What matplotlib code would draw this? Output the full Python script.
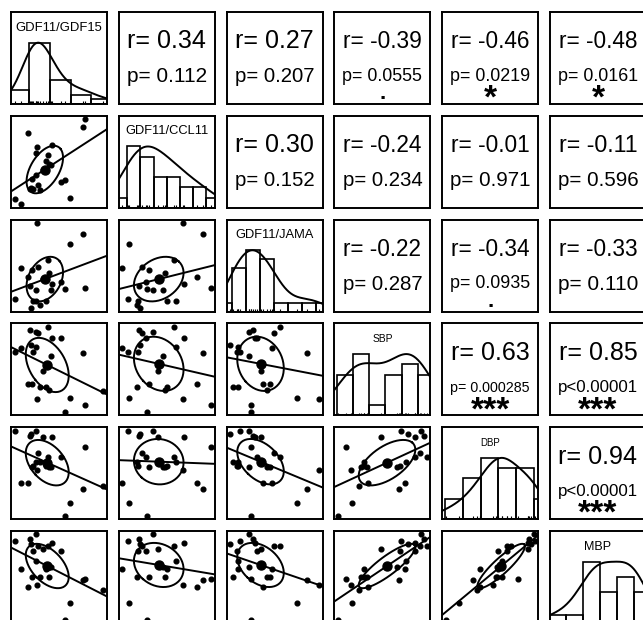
import numpy as np
import matplotlib.pyplot as plt

plt.rcParams['font.family'] = ['Liberation Sans', 'DejaVu Sans']

names = ["GDF11/GDF15", "GDF11/CCL11", "GDF11/JAMA", "SBP", "DBP", "MBP"]
label_sizes = [9.4, 9.3, 9.3, 7.4, 6.9, 9.0]
nan = np.nan
gdf15 = [0.031, 0.063, 0.095, 0.103, 0.111, 0.114, 0.119, 0.132, 0.135, 0.137, 0.144, 0.152,
         0.168, 0.184, 0.192, 0.196, 0.208, 0.213, 0.256, 0.273, 0.298, 0.361, 0.369, 0.458]
ccl11 = [1.02, 0.82, 3.63, 1.44, 1.47, 1.84, 1.41, 1.97, 2.83, 3.10, 1.57, 1.37,
         2.17, 2.52, 2.77, 2.43, 2.37, 3.16, 1.70, 1.77, 1.08, 3.87, 4.18, nan]
jama = [0.310, 0.765, 0.641, 0.503, 0.168, 0.738, 0.269, 0.434, 0.282, 1.445, 0.793, 0.214,
        0.613, 0.283, 0.889, 0.696, 0.437, 0.531, 0.558, 0.462, 1.124, 1.275, 0.466, nan]
sbp = [179, 184, 138, 207, 188, 137, 178, 204, 185, 118, 203, 134,
       154, 133, 211, 130, 174, 196, 197, 101.5, 119, 177, 111, 128]
dbp = [110.4, 79.5, 79.7, 107.3, 108.5, 89.2, 89.8, 110.1, 92.1, 87.2, 97.0, 92.1,
       106.5, 89.7, 95.1, 88.8, 89.2, 106.5, 95.1, 60.3, 68.0, 75.8, 101.0, 78.0]
mbp = [121, 104, 93, 122, 119, 99, 115, 125, 109, 94, 118, 99,
       116, 104, 118, 99, 105, 120, 115, 73, 83, 97, 98, 91]

# upper triangle, row by row
r_values = [0.34, 0.27, -0.39, -0.46, -0.48,
            0.30, -0.24, -0.01, -0.11,
            -0.22, -0.34, -0.33,
            0.63, 0.85,
            0.94]
p_labels = ["p= 0.112", "p= 0.207", "p= 0.0555", "p= 0.0219", "p= 0.0161",
            "p= 0.152", "p= 0.234", "p= 0.971", "p= 0.596",
            "p= 0.287", "p= 0.0935", "p= 0.110",
            "p= 0.000285", "p<0.00001",
            "p<0.00001"]
stars = ["", "", ".", "*", "*",
         "", "", "", "",
         "", ".", "",
         "***", "***",
         "***"]


def pretty_breaks(x):
    # R hist() default: Sturges + pretty()
    n = int(np.ceil(np.log2(len(x)) + 1))
    lo, hi = x.min(), x.max()
    cell = (hi - lo) / n
    U = 10 ** np.floor(np.log10(cell))
    unit = U
    if 2 * U - cell < 1.5 * (cell - unit):
        unit = 2 * U
        if 5 * U - cell < 2.75 * (cell - unit):
            unit = 5 * U
            if 10 * U - cell < 1.5 * (cell - unit):
                unit = 10 * U
    a = np.floor(lo / unit + 1e-7)
    b = np.ceil(hi / unit - 1e-7)
    return np.arange(a, b + 1) * unit


data = [np.array(v, dtype=float) for v in (gdf15, ccl11, jama, sbp, dbp, mbp)]
lims = []
for v in data:
    lo, hi = np.nanmin(v), np.nanmax(v)
    lims.append((lo - 0.04 * (hi - lo), hi + 0.04 * (hi - lo)))

W, H = 643, 620
left0, dx, pw = 11, 107.8, 96
top0, dy, ph = 12, 103.8, 92
lw = 1.4

fig = plt.figure(figsize=(W / 100, H / 100), dpi=100)
renderer = fig.canvas.get_renderer()


def fit_text(ax, y, s, frac):
    t = ax.text(0.5, y, s, transform=ax.transAxes, ha='center', va='center', fontsize=10)
    w = t.get_window_extent(renderer).width
    t.set_fontsize(10 * frac * pw / w)


k = 0
for i in range(6):
    for j in range(6):
        ax = fig.add_axes([(left0 + j * dx) / W, 1 - (top0 + i * dy + ph) / H, pw / W, ph / H])
        ax.set_xticks([])
        ax.set_yticks([])
        for s in ax.spines.values():
            s.set_linewidth(lw)

        if i == j:
            x = data[i][~np.isnan(data[i])]
            edges = pretty_breaks(x)
            counts, edges = np.histogram(x, edges)
            ax.bar(edges[:-1], counts / counts.max(), width=np.diff(edges), align='edge',
                   fill=False, edgecolor='black', linewidth=1.2)
            iqr = np.subtract(*np.percentile(x, [75, 25]))
            bw = 1.2 * 1.06 * min(x.std(ddof=1), iqr / 1.34) * len(x) ** -0.2
            grid = np.linspace(x.min() - 3 * bw, x.max() + 3 * bw, 512)
            dens = np.exp(-0.5 * ((grid[:, None] - x[None, :]) / bw) ** 2).sum(axis=1)
            ax.plot(grid, dens / dens.max(), color='black', lw=lw)
            ax.vlines(x, 0, 0.045, color='black', lw=0.8)
            ax.set_xlim(lims[i])
            ax.set_ylim(0, 1.5)
            ax.text(0.5, 0.83, names[i], transform=ax.transAxes, ha='center', va='center',
                    fontsize=label_sizes[i])
        elif i > j:
            x, y = data[j], data[i]
            ok = ~np.isnan(x) & ~np.isnan(y)
            x, y = x[ok], y[ok]
            ax.plot(x, y, 'o', ms=3.4, color='black')
            xm, ym = x.mean(), y.mean()
            xs, ys = x.std(ddof=1), y.std(ddof=1)
            r = np.corrcoef(x, y)[0, 1]
            ax.plot(xm, ym, 'o', ms=6.5, color='black')
            slope = np.polyfit(x, y, 1)[0]
            ax.axline((xm, ym), slope=slope, color='black', lw=lw)
            t = np.linspace(0, 2 * np.pi, 52)
            th = np.sign(r) / np.sqrt(2)
            ex = (np.cos(t) * np.sqrt(1 + r) - np.sin(t) * np.sqrt(1 - r)) * th
            ey = (np.cos(t) * np.sqrt(1 + r) + np.sin(t) * np.sqrt(1 - r)) * th
            ax.plot(ex * xs + xm, ey * ys + ym, color='black', lw=lw)
            ax.set_xlim(lims[j])
            ax.set_ylim(lims[i])
        else:
            fit_text(ax, 0.68, f"r= {r_values[k]:.2f}", 0.82)
            fit_text(ax, 0.30, p_labels[k], 0.83)
            if stars[k] == ".":
                ax.text(0.5, 0.05, ".", transform=ax.transAxes, ha='center', va='baseline',
                        fontsize=16, fontweight='bold')
            elif stars[k]:
                ax.text(0.5, -0.04, stars[k], transform=ax.transAxes, ha='center',
                        va='baseline', fontsize=24, fontweight='bold')
            k += 1

fig.savefig("out.png", dpi=100)
